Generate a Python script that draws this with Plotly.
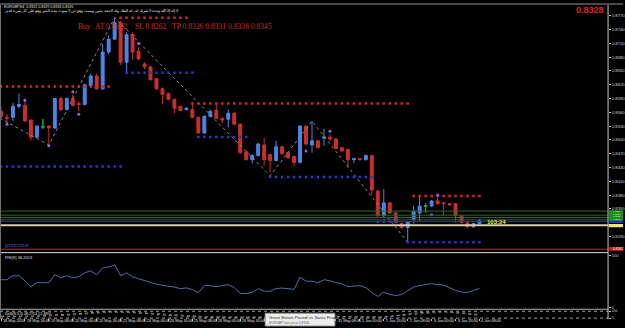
import plotly.graph_objects as go

# ---------------- data ----------------
bars = list(range(81))
opens = [0.8562,0.8549,0.8549,0.8573,0.8575,0.8543,0.8506,0.8528,0.8530,0.8526,
         0.8590,0.8566,0.8590,0.8579,0.8577,0.8618,0.8639,0.8611,0.8691,0.8719,
         0.8755,0.8669,0.8729,0.8693,0.8665,0.8659,0.8633,0.8611,0.8601,0.8588,
         0.8573,0.8566,0.8566,0.8549,0.8515,0.8551,0.8564,0.8547,0.8545,0.8558,
         0.8534,0.8474,0.8457,0.8466,0.8489,0.8468,0.8455,0.8485,0.8472,0.8464,
         0.8451,0.8530,0.8489,0.8498,0.8504,0.8506,0.8502,0.8483,0.8479,0.8457,
         0.8459,0.8457,0.8466,0.8389,0.8335,0.8363,0.8341,0.8318,0.8309,0.8327,
         0.8341,0.8356,0.8356,0.8367,0.8363,0.8361,0.8361,0.8335,0.8320,0.8311,0.8318]
highs = [0.8573,0.8556,0.8581,0.8601,0.8586,0.8545,0.8532,0.8545,0.8532,0.8592,
         0.8594,0.8592,0.8599,0.8584,0.8622,0.8644,0.8644,0.8708,0.8727,0.8766,
         0.8759,0.8734,0.8734,0.8702,0.8669,0.8661,0.8635,0.8614,0.8603,0.8590,
         0.8575,0.8571,0.8581,0.8551,0.8554,0.8566,0.8577,0.8549,0.8566,0.8560,
         0.8536,0.8476,0.8468,0.8494,0.8504,0.8470,0.8498,0.8487,0.8474,0.8466,
         0.8532,0.8532,0.8541,0.8500,0.8524,0.8513,0.8504,0.8485,0.8481,0.8461,
         0.8461,0.8468,0.8468,0.8391,0.8393,0.8365,0.8344,0.8320,0.8324,0.8356,
         0.8376,0.8363,0.8369,0.8374,0.8365,0.8363,0.8363,0.8337,0.8322,0.8320,0.8327]
lows = [0.8545,0.8536,0.8541,0.8569,0.8539,0.8498,0.8504,0.8524,0.8491,0.8524,
        0.8562,0.8564,0.8573,0.8562,0.8575,0.8614,0.8609,0.8609,0.8686,0.8717,
        0.8663,0.8644,0.8674,0.8674,0.8654,0.8629,0.8609,0.8579,0.8586,0.8558,
        0.8562,0.8564,0.8547,0.8513,0.8513,0.8549,0.8545,0.8536,0.8528,0.8532,
        0.8470,0.8455,0.8449,0.8464,0.8444,0.8429,0.8453,0.8468,0.8459,0.8442,
        0.8449,0.8487,0.8472,0.8481,0.8487,0.8498,0.8479,0.8474,0.8440,0.8449,
        0.8455,0.8455,0.8380,0.8333,0.8331,0.8339,0.8318,0.8307,0.8277,0.8318,
        0.8322,0.8341,0.8354,0.8359,0.8335,0.8356,0.8320,0.8318,0.8307,0.8309,0.8318]
closes = [0.8551,0.8547,0.8573,0.8577,0.8541,0.8506,0.8530,0.8529,0.8526,0.8590,
          0.8566,0.8590,0.8575,0.8577,0.8620,0.8639,0.8611,0.8691,0.8719,0.8755,
          0.8669,0.8729,0.8691,0.8676,0.8659,0.8631,0.8611,0.8599,0.8588,0.8569,
          0.8564,0.8569,0.8549,0.8515,0.8551,0.8562,0.8547,0.8543,0.8558,0.8534,
          0.8472,0.8457,0.8466,0.8491,0.8457,0.8455,0.8485,0.8470,0.8461,0.8451,
          0.8530,0.8491,0.8498,0.8483,0.8506,0.8502,0.8481,0.8476,0.8457,0.8459,
          0.8457,0.8466,0.8391,0.8335,0.8363,0.8341,0.8320,0.8309,0.8322,0.8344,
          0.8356,0.8357,0.8367,0.8361,0.8361,0.8359,0.8335,0.8320,0.8311,0.8318,0.8324]
doji_bars = [7, 71]

rsi = [52.8,52.8,60.4,60.4,50.9,39.6,47.2,47.2,47.2,62.3,
       56.6,60.4,56.6,58.5,66.0,69.8,62.3,75.5,77.4,81.1,
       60.4,66.0,58.5,54.7,50.9,47.2,44.3,42.1,40.6,38.7,
       35.8,37.2,34.0,28.3,41.5,41.5,39.6,41.5,43.4,37.7,
       26.4,26.4,28.3,35.8,30.8,30.8,35.8,36.8,35.8,34.5,
       57.5,50.0,50.0,47.2,52.8,50.9,47.2,45.3,39.6,40.6,
       41.5,37.7,28.3,20.8,29.2,24.5,22.6,24.5,31.1,38.7,
       41.5,43.4,45.3,43.4,42.5,37.7,32.1,29.2,28.3,32.1,36.2]

osc_bars = [0, 6, 12, 18, 22, 28, 34, 40, 46, 52, 58, 64, 70, 74, 78, 80]
osc_main = [20, 30, 60, 95, 80, 40, 15, 10, 15, 30, 20, 15, 80, 95, 60, 40]
osc_sig = [30, 25, 45, 85, 88, 55, 25, 12, 12, 25, 25, 15, 60, 90, 75, 55]

# resistance (red dotted) and support (blue dotted) levels
res_start = [0, 20, 32, 69]
res_end = [18, 31, 68, 80]
res_price = [0.8616, 0.8766, 0.8579, 0.8378]
sup_start = [0, 21, 33, 45, 63, 68]
sup_end = [20, 32, 41, 62, 66, 80]
sup_price = [0.8442, 0.8646, 0.8506, 0.8419, 0.8322, 0.8277]

frac_up_x = [4, 12, 23, 55, 73]
frac_up_y = [0.8586, 0.8605, 0.8710, 0.8519, 0.8380]
frac_dn_x = [1, 8, 13, 51, 72]
frac_dn_y = [0.8534, 0.8487, 0.8556, 0.8476, 0.8337]

zz_x = [-2, 8, 19, 45, 52, 68]
zz_y = [0.8560, 0.8489, 0.8766, 0.8422, 0.8541, 0.8277]

tp_levels = [0.8345, 0.8336, 0.8331, 0.8326]
tp_colors = ["#2f6a2f", "#2a5e2a", "#3b6648", "#355c5c"]
entry_level = 0.8322
bid_level = 0.8314
sl_level = 0.8262

price_ticks = [0.8770,0.8740,0.8710,0.8680,0.8650,0.8620,0.8590,0.8560,0.8530,
               0.8500,0.8470,0.8440,0.8410,0.8380,0.8350,0.8320,0.8290]
hidden_price_ticks = [0.8320]          # covered by the level labels
time_tick_bars = list(range(0, 81, 4))
time_tick_labels = ["18 May 2010","18 May 16:00","19 May 08:00","20 May 00:00","20 May 16:00",
                    "21 May 08:00","24 May 00:00","24 May 16:00","25 May 08:00","26 May 00:00",
                    "26 May 16:00","27 May 08:00","28 May 00:00","28 May 16:00","31 May 08:00",
                    "1 Jun 00:00","1 Jun 16:00","2 Jun 08:00","3 Jun 00:00","3 Jun 16:00","4 Jun 08:00"]
hidden_time_bars = [44, 48, 52]        # covered by the tooltip

# ---------------- figure ----------------
W, H = 625, 328
def px_x(p):
    return p / W
def px_y(p):
    return 1 - p / H

BLUE = "#4a86e8"
RED = "#cc2e2e"

fig = go.Figure()

# zigzag
fig.add_trace(go.Scatter(x=zz_x, y=zz_y, mode="lines",
                         line=dict(color="#8a8a8a", width=1, dash="dot"),
                         xaxis="x", yaxis="y", hoverinfo="skip"))

# level dots
for s, e, p in zip(res_start, res_end, res_price):
    xs = list(range(s, e + 1))
    fig.add_trace(go.Scatter(x=xs, y=[p] * len(xs), mode="markers",
                             marker=dict(symbol="square", size=2.5, color="#d02828", line=dict(width=0)),
                             xaxis="x", yaxis="y", hoverinfo="skip"))
for s, e, p in zip(sup_start, sup_end, sup_price):
    xs = list(range(s, e + 1))
    fig.add_trace(go.Scatter(x=xs, y=[p] * len(xs), mode="markers",
                             marker=dict(symbol="square", size=2.5, color="#2438d0", line=dict(width=0)),
                             xaxis="x", yaxis="y", hoverinfo="skip"))

# candles
fig.add_trace(go.Candlestick(x=bars, open=opens, high=highs, low=lows, close=closes,
                             increasing=dict(line=dict(color=BLUE, width=1), fillcolor=BLUE),
                             decreasing=dict(line=dict(color=RED, width=1), fillcolor=RED),
                             whiskerwidth=0, xaxis="x", yaxis="y", hoverinfo="skip"))
fig.add_trace(go.Candlestick(x=doji_bars,
                             open=[opens[i] for i in doji_bars], high=[highs[i] for i in doji_bars],
                             low=[lows[i] for i in doji_bars], close=[closes[i] for i in doji_bars],
                             increasing=dict(line=dict(color="#30a030", width=1), fillcolor="#30a030"),
                             decreasing=dict(line=dict(color="#30a030", width=1), fillcolor="#30a030"),
                             whiskerwidth=0, xaxis="x", yaxis="y", hoverinfo="skip"))

# fractals
fig.add_trace(go.Scatter(x=frac_up_x + frac_dn_x, y=frac_up_y + frac_dn_y, mode="markers",
                         marker=dict(size=3, color="#a855e8", line=dict(width=0)),
                         xaxis="x", yaxis="y", hoverinfo="skip"))

# RSI
fig.add_trace(go.Scatter(x=bars, y=rsi, mode="lines", line=dict(color="#4a6fa8", width=1),
                         xaxis="x", yaxis="y2", hoverinfo="skip"))
# bottom oscillator
fig.add_trace(go.Scatter(x=osc_bars, y=osc_main, mode="lines", line=dict(color="#9a9a9a", width=1, dash="dot"),
                         xaxis="x", yaxis="y3", hoverinfo="skip"))
fig.add_trace(go.Scatter(x=osc_bars, y=osc_sig, mode="lines", line=dict(color="#6a6a6a", width=1, dash="dot"),
                         xaxis="x", yaxis="y3", hoverinfo="skip"))

shapes = []
XR = 610 / W
# top bar
shapes.append(dict(type="rect", xref="paper", yref="paper", x0=0, x1=1, y0=px_y(2), y1=1,
                   fillcolor="#4a4a4a", line=dict(width=0)))
# horizontal TP lines, entry, bid, SL
for lv, c in zip(tp_levels, tp_colors):
    shapes.append(dict(type="line", xref="paper", yref="y", x0=0, x1=XR, y0=lv, y1=lv,
                       line=dict(color=c, width=1)))
shapes.append(dict(type="line", xref="paper", yref="y", x0=0, x1=XR, y0=entry_level, y1=entry_level,
                   line=dict(color="#2a4466", width=1)))
shapes.append(dict(type="line", xref="paper", yref="y", x0=0, x1=XR, y0=bid_level, y1=bid_level,
                   line=dict(color="#d8d0a8", width=2)))
shapes.append(dict(type="line", xref="paper", yref="y", x0=0, x1=XR, y0=sl_level, y1=sl_level,
                   line=dict(color="#b03030", width=1)))
# pane separators
shapes.append(dict(type="line", xref="paper", yref="paper", x0=0, x1=XR, y0=px_y(253.5), y1=px_y(253.5),
                   line=dict(color="#e8d8d8", width=1)))
shapes.append(dict(type="line", xref="paper", yref="paper", x0=0, x1=XR, y0=px_y(311), y1=px_y(311),
                   line=dict(color="#b0b0b0", width=1)))
shapes.append(dict(type="line", xref="paper", yref="paper", x0=0, x1=XR, y0=px_y(313), y1=px_y(313),
                   line=dict(color="#a0a0a0", width=1, dash="dot")))
shapes.append(dict(type="line", xref="paper", yref="paper", x0=0, x1=XR, y0=px_y(320), y1=px_y(320),
                   line=dict(color="#a0a0a0", width=1, dash="dot")))
# right axis line and left border
shapes.append(dict(type="line", xref="paper", yref="paper", x0=XR, x1=XR, y0=px_y(321), y1=px_y(2),
                   line=dict(color="#c8c8c8", width=1)))
shapes.append(dict(type="line", xref="paper", yref="paper", x0=px_x(0.5), x1=px_x(0.5), y0=px_y(321), y1=px_y(2),
                   line=dict(color="#707070", width=1)))
# right-side price label boxes
shapes.append(dict(type="rect", xref="paper", yref="y", x0=XR + 0.001, x1=1,
                   y0=min(tp_levels) - 0.0004, y1=max(tp_levels) + 0.0002,
                   fillcolor="#1c8c1c", line=dict(width=0)))
shapes.append(dict(type="rect", xref="paper", yref="y", x0=XR + 0.001, x1=1,
                   y0=entry_level - 0.0003, y1=entry_level + 0.0002,
                   fillcolor="#2030c8", line=dict(width=0)))
shapes.append(dict(type="rect", xref="paper", yref="y", x0=XR + 0.001, x1=1,
                   y0=bid_level - 0.0004, y1=bid_level + 0.0003,
                   fillcolor="#f0e860", line=dict(width=0)))
shapes.append(dict(type="rect", xref="paper", yref="y", x0=XR + 0.001, x1=1,
                   y0=sl_level - 0.0003, y1=sl_level + 0.0005,
                   fillcolor="#d01818", line=dict(width=0)))
# tooltip box
shapes.append(dict(type="rect", xref="paper", yref="paper", x0=px_x(266), x1=px_x(336),
                   y0=0, y1=px_y(315), fillcolor="#ececec", line=dict(color="#909090", width=1)))

ann = []
def txt(x, y, s, size=5, color="#e0e0e0", family="Liberation Sans", xanchor="left", yanchor="middle", **kw):
    ann.append(dict(xref="paper", yref="paper", x=px_x(x), y=px_y(y), text=s, showarrow=False,
                    xanchor=xanchor, yanchor=yanchor, font=dict(size=size, color=color, family=family), **kw))

txt(2, 4, "EURGBP,H4  0.8322 0.8329 0.8318 0.8326", size=3.6)
txt(2, 8.5, "لا إله إلا الله وحده لا شريك له ، له الملك وله الحمد يحيي ويميت وهو حي لا يموت بيده الخير وهو على كل شيء قدير",
    size=3.6)
RC = "#cc2a2a"
txt(76, 24, "Buy", size=7.6, color=RC, family="Liberation Serif")
txt(93, 24, "AT 0.8322", size=7.6, color=RC, family="Liberation Serif")
txt(133, 24, "SL 0.8262", size=7.6, color=RC, family="Liberation Serif")
txt(171, 24, "TP 0.8326 0.8331 0.8336 0.8345", size=7.6, color=RC, family="Liberation Serif")
txt(608, 7, "<b>0.8328</b>", size=9, color="#e02020", family="Liberation Sans", xanchor="right")
txt(487, 222, "<b>103:24</b>", size=6, color="#f0e040")
txt(3, 246, "<i>greenius</i>", size=7, color="#3858c0", family="Liberation Serif")
txt(3, 258, "RSI(9) 36.2013", size=4)
txt(3, 315.5, "DeM(8,3,3) 48.2754 12.4891", size=3.6)
txt(268, 319, "Great Britain Pound vs Swiss Franc", size=4.4, color="#303030")
txt(268, 325, "EURGBP last price 0.8326", size=3.4, color="#606060")
# price labels stacked in the green box
for k, lv in enumerate(sorted(tp_levels, reverse=True)):
    txt(613, 211.5 + 2.9 * k, f"{lv:.4f}", size=2.4, color="#d8ffd8")
ann.append(dict(xref="paper", yref="y", x=px_x(613), y=sl_level + 0.0001, text=f"{sl_level:.4f}", showarrow=False,
                xanchor="left", yanchor="middle", font=dict(size=3.4, color="#ffffff", family="Liberation Sans")))
# time labels (left aligned like the terminal)
for b, lab in zip(time_tick_bars, time_tick_labels):
    if b in hidden_time_bars:
        continue
    ann.append(dict(xref="x", yref="paper", x=b, y=px_y(322.5), text=lab, showarrow=False,
                    xanchor="left", yanchor="middle", xshift=0,
                    font=dict(size=3.8, color="#e0e0e0", family="Liberation Sans")))

fig.update_layout(
    width=W, height=H, margin=dict(l=0, r=0, t=0, b=0),
    paper_bgcolor="#000000", plot_bgcolor="#000000", showlegend=False,
    shapes=shapes, annotations=ann,
    xaxis=dict(domain=[0, XR], range=[-1 / 6, 101.5], anchor="y3", showgrid=False, zeroline=False,
               showticklabels=False, ticks="outside", ticklen=2, tickcolor="#c0c0c0",
               tickvals=time_tick_bars, rangeslider=dict(visible=False), fixedrange=True),
    yaxis=dict(domain=[px_y(253), px_y(4)], range=[0.825571, 0.878929], side="right", anchor="x",
               showgrid=False, zeroline=False, tickvals=price_ticks,
               ticktext=["" if v in hidden_price_ticks else f"{v:.4f}" for v in price_ticks],
               ticks="outside", ticklen=2, tickcolor="#c0c0c0",
               tickfont=dict(size=4.2, color="#d0d0d0", family="Liberation Sans")),
    yaxis2=dict(domain=[px_y(309), px_y(256)], range=[0, 100], side="right", anchor="x",
                showgrid=False, zeroline=False, tickvals=[0, 100], ticktext=["0", "100"],
                ticks="outside", ticklen=2, tickcolor="#c0c0c0",
                tickfont=dict(size=4, color="#d0d0d0", family="Liberation Sans")),
    yaxis3=dict(domain=[px_y(320), px_y(313)], range=[0, 100], side="right", anchor="x",
                showgrid=False, zeroline=False, tickvals=[0, 100], ticktext=["0", "100"],
                ticks="outside", ticklen=2, tickcolor="#c0c0c0",
                tickfont=dict(size=3.4, color="#d0d0d0", family="Liberation Sans")),
)

fig.write_html("out.html")
